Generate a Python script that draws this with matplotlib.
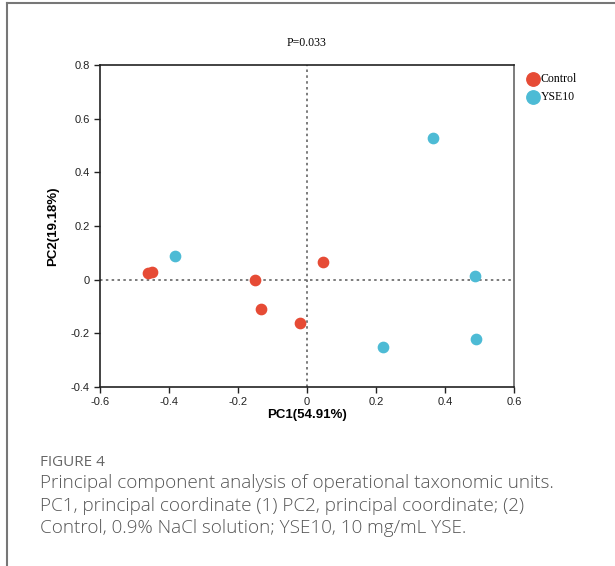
import matplotlib
matplotlib.use("Agg")
import matplotlib.pyplot as plt
from matplotlib.lines import Line2D

# PCA scores
ctrl_pc1 = [-0.460, -0.450, -0.151, -0.133, -0.020, 0.045]
ctrl_pc2 = [0.024, 0.028, 0.000, -0.109, -0.160, 0.067]
yse_pc1 = [-0.383, 0.366, 0.486, 0.219, 0.489]
yse_pc2 = [0.088, 0.527, 0.013, -0.250, -0.222]

groups = ["Control", "YSE10"]
colors = ["#E64B35", "#4DBBD5"]
xticks = [-0.6, -0.4, -0.2, 0, 0.2, 0.4, 0.6]
yticks = [-0.4, -0.2, 0, 0.2, 0.4, 0.6, 0.8]

plt.rcParams["font.family"] = "Liberation Sans"

fig = plt.figure(figsize=(6.15, 5.66), dpi=100)
ax = fig.add_axes([0.1626, 0.3163, 0.6732, 0.5689])

ax.axhline(0, color="#666666", ls=(0, (1.5, 2)), lw=1.2, zorder=1)
ax.axvline(0, color="#666666", ls=(0, (1.5, 2)), lw=1.2, zorder=1)

ax.scatter(ctrl_pc1, ctrl_pc2, s=55, color=colors[0], zorder=3, label=groups[0])
ax.scatter(yse_pc1, yse_pc2, s=55, color=colors[1], zorder=3, label=groups[1])

ax.set_xlim(-0.6, 0.6)
ax.set_ylim(-0.4, 0.8)
ax.set_xticks(xticks)
ax.set_xticklabels(["-0.6", "-0.4", "-0.2", "0", "0.2", "0.4", "0.6"])
ax.set_yticks(yticks)
ax.set_yticklabels(["-0.4", "-0.2", "0", "0.2", "0.4", "0.6", "0.8"])
ax.tick_params(direction="out", length=4, width=1, labelsize=8,
               colors="#222222")
for s in ["left", "bottom", "top"]:
    ax.spines[s].set_linewidth(1.2)
    ax.spines[s].set_color("#222222")
ax.spines["right"].set_color("#666666")
ax.spines["right"].set_linewidth(1.2)

ax.set_xlabel("PC1(54.91%)", fontsize=9.5, fontweight="bold", labelpad=1)
ax.set_ylabel("PC2(19.18%)", fontsize=9.5, fontweight="bold", labelpad=8)
ax.set_title("P=0.033", fontsize=8.5, family="Liberation Serif", pad=14)

leg = ax.legend(loc="upper left", bbox_to_anchor=(1.005, 0.99), frameon=False,
                prop={"family": "Liberation Serif", "size": 8.5},
                handletextpad=-0.3, borderaxespad=0, labelspacing=0.55,
                markerscale=1.3)

# caption below the chart
cap = ("Principal component analysis of operational taxonomic units.\n"
       "PC1, principal coordinate (1) PC2, principal coordinate; (2)\n"
       "Control, 0.9% NaCl solution; YSE10, 10 mg/mL YSE.")
fig.text(40 / 615, 1 - 462 / 566, "FIGURE 4", fontsize=11, family="Open Sans",
         color="#666666", va="center")
fig.text(40 / 615, 1 - 474 / 566, cap, fontsize=13.6, family="Open Sans",
         fontweight="light", color="#555555", va="top", linespacing=1.33)

# page border on top and left
fig.add_artist(Line2D([7 / 615, 1], [1 - 3 / 566, 1 - 3 / 566],
                      color="#777777", lw=1.5, transform=fig.transFigure))
fig.add_artist(Line2D([7 / 615, 7 / 615], [0, 1 - 3 / 566],
                      color="#777777", lw=1.5, transform=fig.transFigure))

fig.savefig("out.png", dpi=100)
